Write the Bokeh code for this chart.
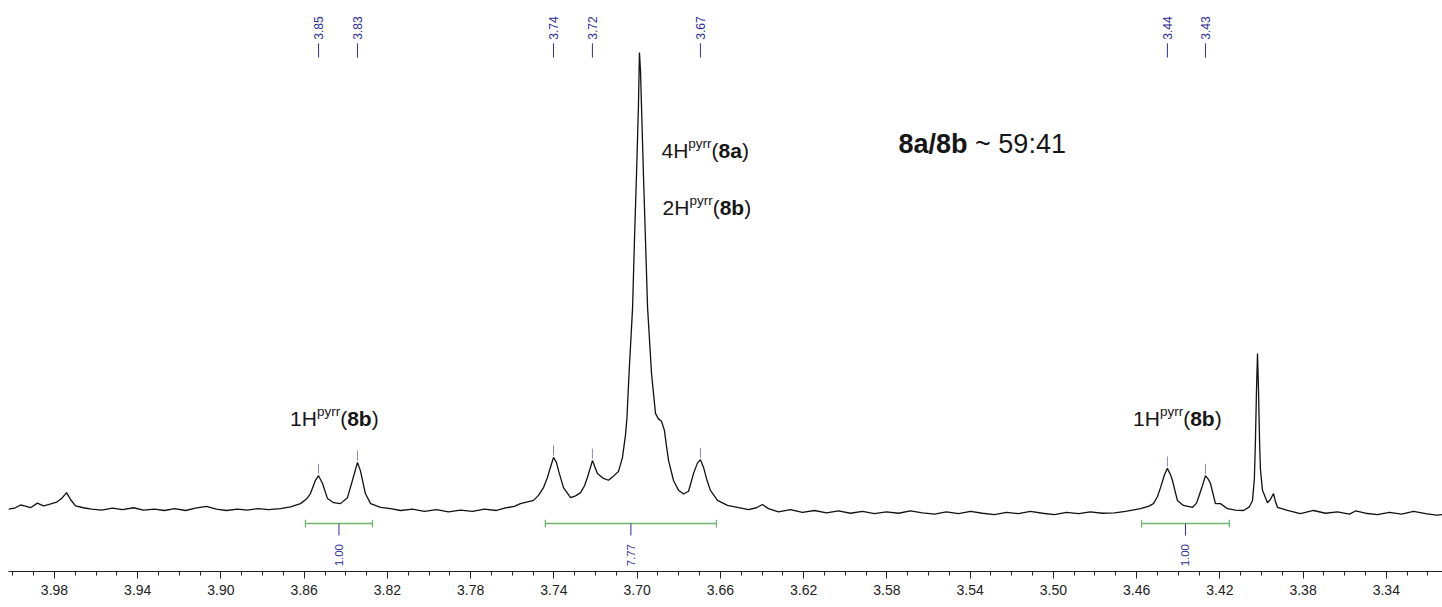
import math
from bokeh.plotting import figure
from bokeh.models import Range1d, FixedTicker, Label, NumeralTickFormatter
from bokeh.embed import file_html
from bokeh.resources import INLINE
from bokeh.core.properties import value

# ---------------- data ----------------
ppm = [4.0021, 3.9992, 3.9963, 3.9944, 3.9915, 3.9882, 3.9853, 3.9829, 3.9790, 3.9766,
       3.9742, 3.9723, 3.9699, 3.9661, 3.9622, 3.9574, 3.9521, 3.9473, 3.9420, 3.9372,
       3.9319, 3.9271, 3.9223, 3.9170, 3.9122, 3.9070, 3.9022, 3.8973, 3.8921, 3.8873,
       3.8820, 3.8772, 3.8714, 3.8666, 3.8618, 3.8589, 3.8570, 3.8546, 3.8531, 3.8512,
       3.8488, 3.8459, 3.8426, 3.8392, 3.8368, 3.8344, 3.8330, 3.8306, 3.8281, 3.8233,
       3.8185, 3.8137, 3.8080, 3.8022, 3.7964, 3.7907, 3.7849, 3.7791, 3.7734, 3.7676,
       3.7628, 3.7590, 3.7561, 3.7527, 3.7498, 3.7474, 3.7450, 3.7431, 3.7417, 3.7402,
       3.7388, 3.7378, 3.7354, 3.7320, 3.7296, 3.7272, 3.7253, 3.7239, 3.7215, 3.7191,
       3.7162, 3.7138, 3.7114, 3.7090, 3.7071, 3.7056, 3.7049, 3.7039, 3.7022, 3.7013,
       3.7003, 3.6994, 3.6989, 3.6984, 3.6979, 3.6970, 3.6960, 3.6950, 3.6931, 3.6912,
       3.6898, 3.6883, 3.6869, 3.6859, 3.6849, 3.6825, 3.6801, 3.6777, 3.6753, 3.6729,
       3.6710, 3.6696, 3.6681, 3.6667, 3.6648, 3.6614, 3.6566, 3.6518, 3.6465, 3.6427,
       3.6398, 3.6369, 3.6321, 3.6263, 3.6206, 3.6148, 3.6090, 3.6033, 3.5975, 3.5917,
       3.5860, 3.5802, 3.5744, 3.5687, 3.5629, 3.5571, 3.5514, 3.5456, 3.5398, 3.5341,
       3.5283, 3.5225, 3.5168, 3.5110, 3.5052, 3.4995, 3.4937, 3.4879, 3.4822, 3.4764,
       3.4706, 3.4653, 3.4581, 3.4543, 3.4519, 3.4500, 3.4485, 3.4466, 3.4452, 3.4437,
       3.4428, 3.4404, 3.4375, 3.4331, 3.4312, 3.4303, 3.4283, 3.4269, 3.4255, 3.4245,
       3.4221, 3.4197, 3.4163, 3.4125, 3.4086, 3.4058, 3.4043, 3.4034, 3.4029, 3.4024,
       3.4019, 3.4014, 3.4009, 3.4005, 3.3995, 3.3971, 3.3957, 3.3942, 3.3933, 3.3923,
       3.3875, 3.3813, 3.3750, 3.3692, 3.3635, 3.3577, 3.3548, 3.3500, 3.3443, 3.3385,
       3.3327, 3.3269, 3.3211, 3.3159, 3.3130]
intensity = [0.3, 0.5, 1.2, 1.0, 0.6, 1.6, 1.0, 1.3, 1.8, 2.6,
             3.9, 2.4, 1.0, 0.6, 0.3, 0.1, 0.5, 0.2, 0.6, 0.1,
             0.3, 0.0, 0.4, 0.0, 0.5, 0.9, 0.3, 0.0, 0.3, 0.1,
             0.4, 0.2, 0.4, 0.8, 1.5, 2.5, 3.7, 6.6, 7.6, 5.9,
             2.6, 1.7, 1.5, 2.8, 6.6, 10.5, 8.7, 3.7, 1.5, 0.7,
             0.4, 0.0, 0.3, -0.2, 0.2, -0.3, 0.1, -0.2, 0.3, 0.0,
             0.6, 0.9, 1.5, 1.9, 2.2, 3.3, 5.0, 7.2, 9.4, 11.6,
             10.5, 8.7, 5.0, 2.8, 3.2, 3.9, 5.4, 7.2, 10.9, 8.1,
             7.0, 6.6, 7.5, 8.5, 11.5, 16.5, 20.3, 29.9, 44.3, 59.0,
             73.6, 88.0, 100.0, 96.0, 88.0, 73.6, 59.0, 44.3, 29.9, 21.2,
             20.0, 19.5, 17.5, 14.0, 10.9, 6.5, 4.4, 3.6, 4.2, 8.1,
             10.4, 11.1, 9.4, 7.0, 4.4, 2.2, 1.1, 0.7, 0.2, 0.6,
             1.3, 0.4, -0.3, 0.2, -0.4, 0.0, -0.5, -0.1, -0.6, -0.2,
             -0.7, -0.3, -0.6, -0.1, -0.5, -0.8, -0.3, -0.7, -0.2, -0.6,
             -0.9, -0.4, -0.7, -0.2, -0.6, -0.9, -0.4, -0.7, -0.3, -0.6,
             -0.5, -0.2, 0.4, 0.9, 1.5, 3.0, 5.0, 7.8, 9.2, 7.8,
             6.6, 2.2, 1.1, 0.7, 1.6, 2.8, 5.5, 7.6, 6.8, 5.9,
             1.5, 1.5, 0.4, 0.1, 0.0, 0.8, 2.2, 7.0, 15.0, 26.0,
             34.3, 26.0, 15.0, 9.0, 4.4, 1.7, 2.4, 3.7, 2.0, 0.7,
             0.0, -0.7, 0.0, -0.6, -0.3, -0.8, -0.1, -0.6, -0.9, -0.4,
             -0.8, -0.2, -0.7, -1.0, -0.9]

peak_ppm = [3.8531, 3.8344, 3.7402, 3.7215, 3.6696, 3.4452, 3.4269]
peak_int = [7.6, 10.5, 11.6, 10.9, 11.1, 9.2, 7.6]
peak_labels = ["3.85", "3.83", "3.74", "3.72", "3.67", "3.44", "3.43"]

integ_from = [3.8594, 3.7441, 3.4576]
integ_to = [3.8272, 3.6619, 3.4154]
integ_labels = ["1.00", "7.77", "1.00"]

tick_values = [3.98, 3.94, 3.90, 3.86, 3.82, 3.78, 3.74, 3.70, 3.66,
               3.62, 3.58, 3.54, 3.50, 3.46, 3.42, 3.38, 3.34]

# ---------------- figure ----------------
p = figure(width=1442, height=607, output_backend="svg", toolbar_location=None,
           x_range=Range1d(4.0021, 3.3130), y_range=Range1d(-13.32, 111.35),
           y_axis_location=None, min_border_left=8, min_border_right=0,
           min_border_top=0, min_border_bottom=36)
p.grid.visible = False
p.outline_line_color = None
p.background_fill_color = "white"
p.border_fill_color = "white"

minor = [round(4.00 - 0.01 * i, 2) for i in range(70)]
ax = p.xaxis[0]
ax.ticker = FixedTicker(ticks=tick_values, minor_ticks=minor)
ax.formatter = NumeralTickFormatter(format="0.00")
ax.major_tick_in = 0
ax.major_tick_out = 7
ax.minor_tick_in = 0
ax.minor_tick_out = 4
ax.axis_line_color = "#222222"
ax.major_tick_line_color = "#222222"
ax.minor_tick_line_color = "#222222"
ax.major_label_text_font = "Liberation Sans"
ax.major_label_text_font_size = "14px"
ax.major_label_text_color = "#222222"
ax.major_label_standoff = 6

# spectrum
p.line(ppm, intensity, line_color="#111111", line_width=1.3)

# peak marks and labels
p.segment(x0=peak_ppm, y0=[v + 0.4 for v in peak_int], x1=peak_ppm,
          y1=[v + 2.6 for v in peak_int], line_color="#8a8ab0", line_width=1)
lbl_color = "#30309a"
p.segment(x0=peak_ppm, y0=[98.9] * len(peak_ppm), x1=peak_ppm,
          y1=[102.0] * len(peak_ppm), line_color=lbl_color, line_width=1)
p.text(x=peak_ppm, y=[102.8] * len(peak_ppm), text=peak_labels, angle=math.pi / 2,
       text_align="left", text_baseline="middle", text_font=value("Liberation Sans"),
       text_font_size="12px", text_color=lbl_color)

# integrals
mids = [(a + b) / 2 for a, b in zip(integ_from, integ_to)]
n = len(integ_from)
green = "#6fb56f"
p.segment(x0=integ_from, y0=[-2.84] * n, x1=integ_to, y1=[-2.84] * n,
          line_color=green, line_width=1.3)
p.segment(x0=integ_from, y0=[-2.0] * n, x1=integ_from, y1=[-3.7] * n,
          line_color=green, line_width=1.3)
p.segment(x0=integ_to, y0=[-2.0] * n, x1=integ_to, y1=[-3.7] * n,
          line_color=green, line_width=1.3)
p.segment(x0=mids, y0=[-2.84] * n, x1=mids, y1=[-5.46] * n,
          line_color=lbl_color, line_width=1)
p.text(x=mids, y=[-12.2] * n, text=integ_labels, angle=math.pi / 2,
       text_align="left", text_baseline="middle", text_font=value("Liberation Sans"),
       text_font_size="11.5px", text_color=lbl_color)

# rich annotations built from runs
W = {'1': 556, 'H': 722, 'p': 556, 'y': 500, 'r': 333, '(': 333, ')': 333, '4': 556,
     '2': 556, '5': 556, '9': 556, ':': 278, ' ': 278, '~': 584, '8': 556, 'a': 556,
     'b': 611, '/': 278}


def run_w(text, size):
    return sum(W.get(c, 556) for c in text) * size / 1000.0


def add_runs(x, y, runs, center=False):
    total = sum(run_w(t, s) for t, s, b, r in runs)
    off = -total / 2 if center else 0.0
    for t, s, b, r in runs:
        lead = len(t) - len(t.lstrip(" "))
        core = t.strip(" ")
        off_core = off + run_w(" " * lead, s)
        if core:
            p.add_layout(Label(x=x, y=y, x_offset=off_core, y_offset=r, text=core,
                               text_font="Liberation Sans", text_font_size=f"{s}px",
                               text_font_style="bold" if b else "normal",
                               text_color="#161616", text_align="left",
                               text_baseline="alphabetic"))
        off += run_w(t, s)


def hpyrr(n_h, comp):
    return [(f"{n_h}H", 21, False, 0), ("pyrr", 13.5, False, 6.5),
            ("(", 21, False, 0), (comp, 21, True, 0), (")", 21, False, 0)]


add_runs(3.8455, 20.1, hpyrr(1, "8b"), center=True)
add_runs(3.4404, 20.1, hpyrr(1, "8b"), center=True)
add_runs(3.6883, 78.6, hpyrr(4, "8a"))
add_runs(3.6878, 66.2, hpyrr(2, "8b"))
add_runs(3.5744, 80.1, [("8a/8b", 27, True, 0), (" ~ ", 27, False, 0),
                        ("59:41", 27, False, 0)])

open("out.html", "w").write(file_html(p, INLINE))
